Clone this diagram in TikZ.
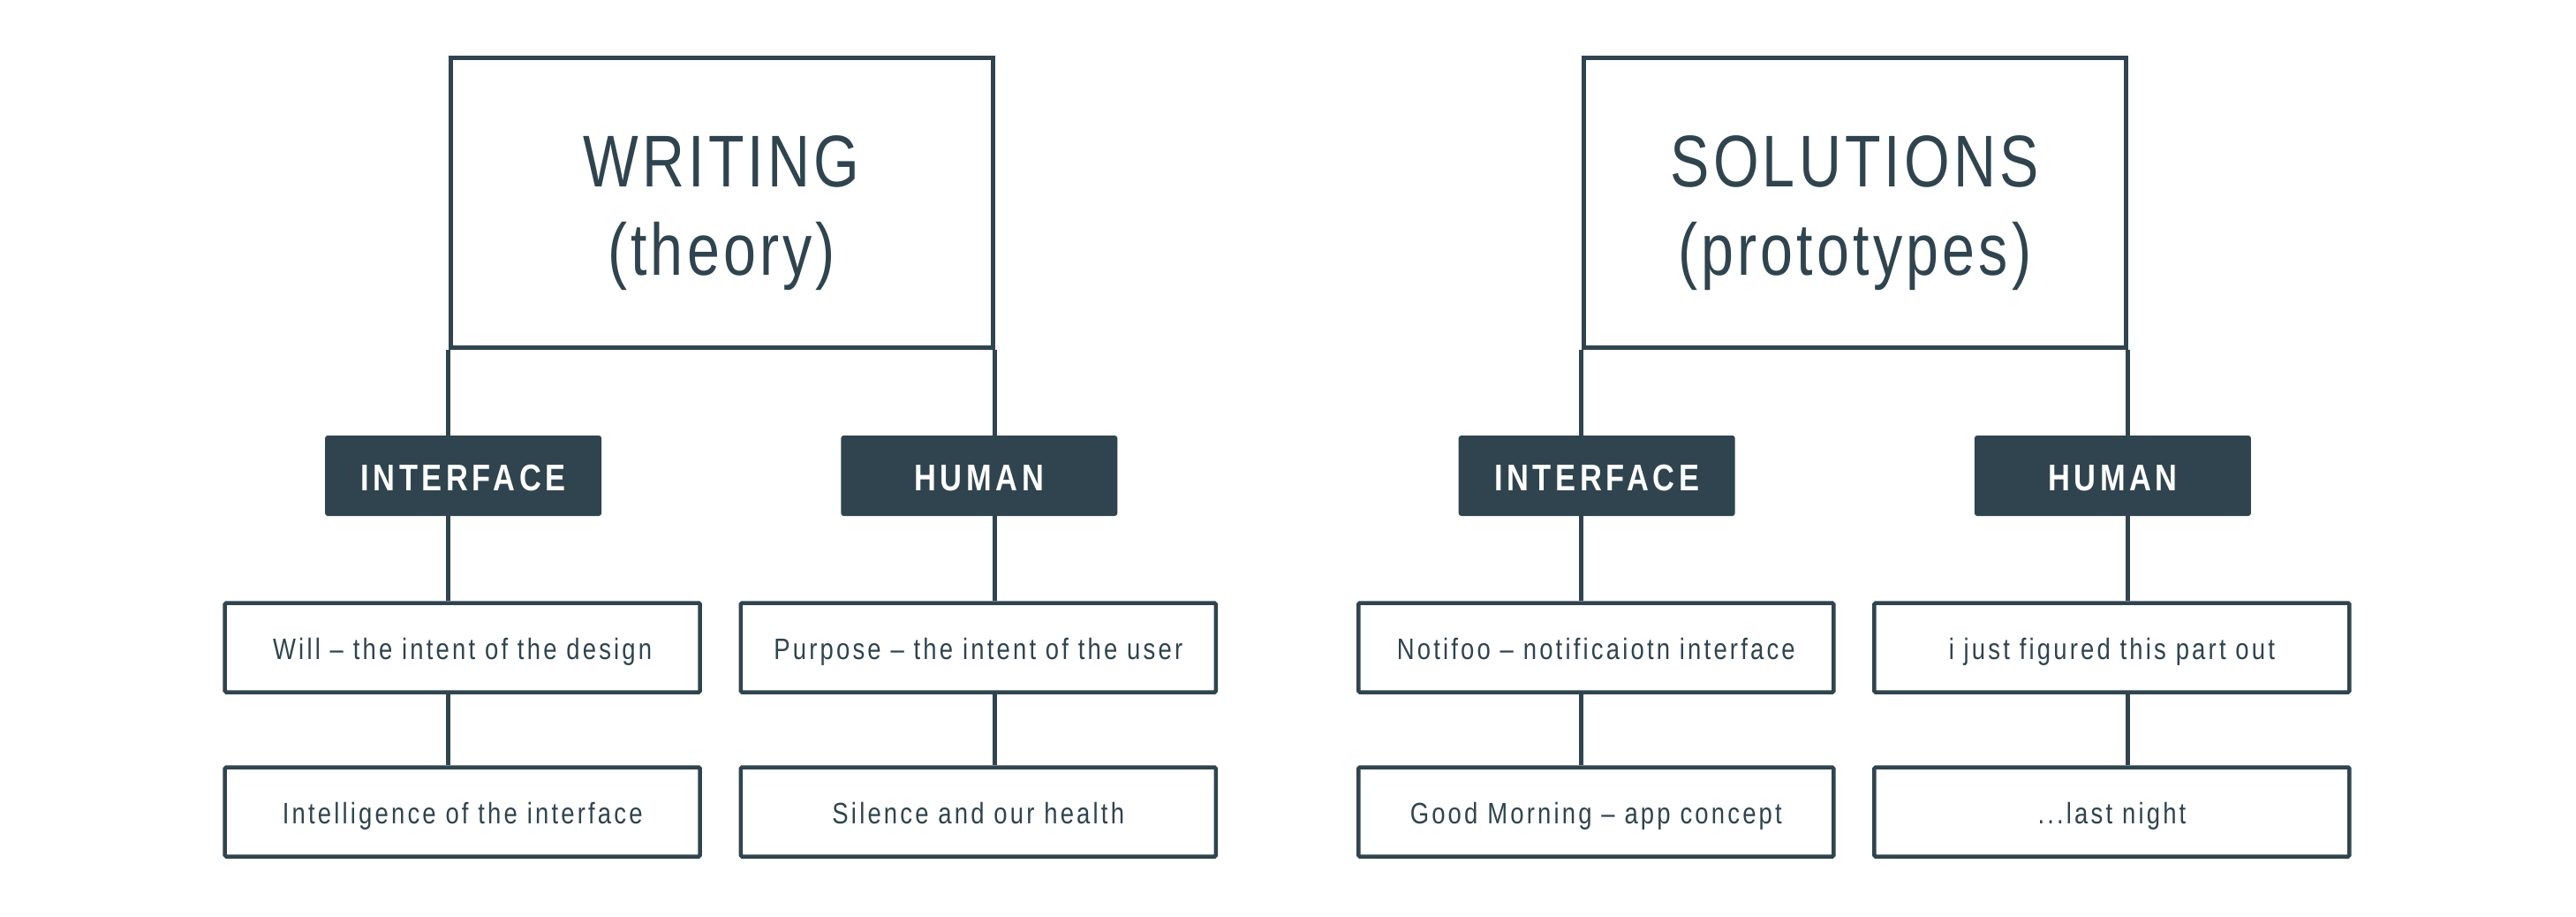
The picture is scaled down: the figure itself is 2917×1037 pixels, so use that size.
\documentclass[tikz,border=0pt]{standalone}
\usepackage{fontspec}
\setmainfont{Liberation Sans}[FakeStretch=0.82,LetterSpace=9.5]
\newfontfamily\titlefont{Liberation Sans}[FakeStretch=0.80,LetterSpace=5]
\newfontfamily\tagfont{Liberation Sans}[FakeStretch=0.82,LetterSpace=11]
\definecolor{slate}{HTML}{2F444E}

\tikzset{
  headbox/.style={draw=slate, line width=5pt, inner sep=0pt,
    minimum width=614pt, minimum height=328pt},
  headtext/.style={text=slate, align=center, inner sep=0pt,
    font=\titlefont\fontsize{83}{100.5}\selectfont},
  tagbox/.style={fill=slate, rounded corners=3pt, inner sep=0pt,
    minimum width=313pt, minimum height=91pt, text=white,
    text height=33pt, text depth=0pt,
    font=\tagfont\bfseries\fontsize{42}{42}\selectfont},
  leafbox/.style={draw=slate, fill=white, line width=4.5pt, inner sep=0pt,
    rounded corners=1.5pt, minimum width=538pt, minimum height=101pt,
    text height=30pt, text depth=2.6pt,
    text=slate, font=\fontsize{33.5}{33.5}\selectfont},
  link/.style={draw=slate, line width=5pt}
}

\begin{document}
\begin{tikzpicture}[x=1pt,y=-1pt]
\useasboundingbox (0,0) rectangle (2917,1037);

% ---- left tree: writing ----
\node[headbox] (W) at (817,229) {};
\node[headtext] (Wt) at ([yshift=-12pt]W.center) {WRITING\\(theory)};
\node[tagbox] (WI) at (524.6,538.5) {INTERFACE};
\node[tagbox] (WH) at (1108.8,538.5) {HUMAN};
\node[leafbox] (WI1) at (523.7,733) {Will – the intent of the design};
\node[leafbox] (WI2) at (523.7,919) {Intelligence of the interface};
\node[leafbox] (WH1) at (1107.8,733) {Purpose – the intent of the user};
\node[leafbox] (WH2) at (1107.8,919) {Silence and our health};

% ---- right tree: solutions ----
\node[headbox] (S) at (2100.2,229) {};
\node[headtext] (St) at ([yshift=-12pt]S.center) {SOLUTIONS\\(prototypes)};
\node[tagbox] (SI) at (1808.2,538.5) {INTERFACE};
\node[tagbox] (SH) at (2392.4,538.5) {HUMAN};
\node[leafbox] (SI1) at (1807.3,733) {Notifoo – notificaiotn interface};
\node[leafbox] (SI2) at (1807.3,919) {Good Morning – app concept};
\node[leafbox] (SH1) at (2391.4,733) {i just figured this part out};
\node[leafbox] (SH2) at (2391.4,919) {...last night};

% ---- connectors, dropped from the corners of each heading box ----
\foreach \h/\c/\t/\a/\b in {W/south west/WI/WI1/WI2, W/south east/WH/WH1/WH2,
                            S/south west/SI/SI1/SI2, S/south east/SH/SH1/SH2}{
  \draw[link] (\h.\c) -- (\h.\c |- \t.north);
  \draw[link] (\h.\c |- \t.south) -- (\h.\c |- \a.north);
  \draw[link] (\h.\c |- \a.south) -- (\h.\c |- \b.north);
}
\end{tikzpicture}
\end{document}
